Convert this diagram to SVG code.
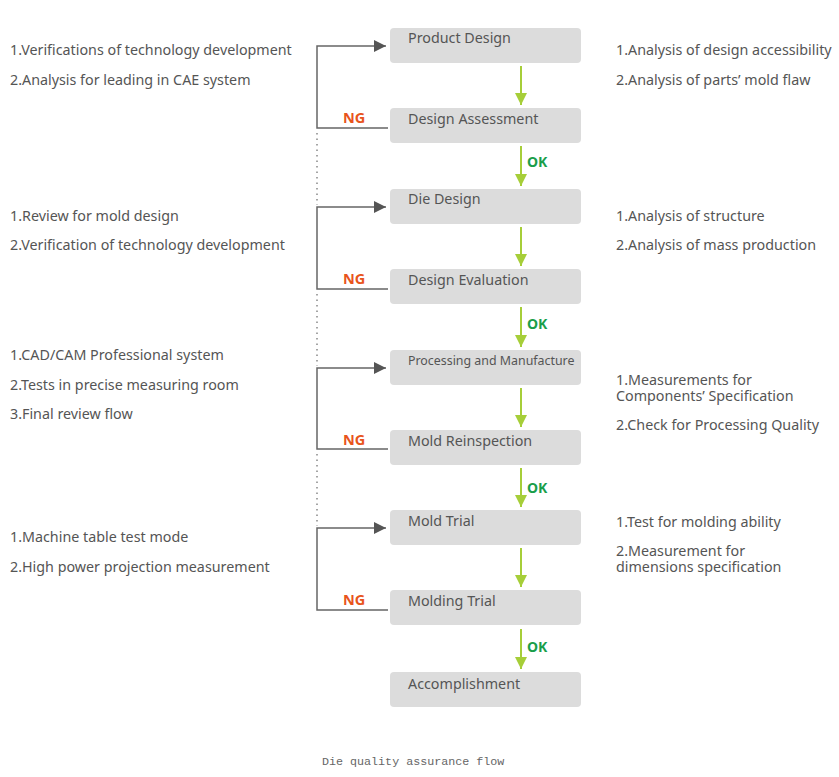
<svg xmlns="http://www.w3.org/2000/svg" width="839" height="777" viewBox="0 0 839 777">
<defs>
<style>
.box{fill:#dcdcdc}
.bt{font-family:"Noto Sans","Open Sans",sans-serif;font-size:14.3px;fill:#555}
.t{font-family:"Noto Sans","Open Sans",sans-serif;font-size:14.3px;fill:#555}
.ok{font-family:"Noto Sans","Open Sans",sans-serif;font-size:14px;font-weight:bold;fill:#1a9e4a}
.ng{font-family:"Noto Sans","Open Sans",sans-serif;font-size:14.5px;font-weight:bold;fill:#e8541c}
.g{stroke:#a6ce39;stroke-width:2;fill:none}
.f{stroke:#666;stroke-width:1.5;fill:none}
.d{stroke:#888;stroke-width:1.5;fill:none;stroke-dasharray:1.5 4}
</style>
<marker id="ga" viewBox="0 0 10 10" refX="10" refY="5" markerWidth="6" markerHeight="6" markerUnits="strokeWidth" orient="auto"><path d="M0,0 L10,5 L0,10 z" fill="#a6ce39"/></marker>
<marker id="fa" viewBox="0 0 10 10" refX="10" refY="5" markerWidth="8" markerHeight="8" markerUnits="strokeWidth" orient="auto"><path d="M0,0 L10,5 L0,10 z" fill="#555"/></marker>
</defs>
<rect width="839" height="777" fill="#fff"/>
<g id="connectors">
<line class="g" x1="521" y1="66" x2="521" y2="105" marker-end="url(#ga)"/>
<line class="g" x1="521" y1="146" x2="521" y2="186" marker-end="url(#ga)"/>
<line class="g" x1="521" y1="227" x2="521" y2="266" marker-end="url(#ga)"/>
<line class="g" x1="521" y1="307" x2="521" y2="347" marker-end="url(#ga)"/>
<line class="g" x1="521" y1="388" x2="521" y2="427" marker-end="url(#ga)"/>
<line class="g" x1="521" y1="468" x2="521" y2="507" marker-end="url(#ga)"/>
<line class="g" x1="521" y1="548" x2="521" y2="587" marker-end="url(#ga)"/>
<line class="g" x1="521" y1="629" x2="521" y2="669" marker-end="url(#ga)"/>
<path class="f" d="M388,128 H317 V46 H386" marker-end="url(#fa)"/>
<path class="f" d="M388,289 H317 V207 H386" marker-end="url(#fa)"/>
<path class="f" d="M388,449 H317 V368 H386" marker-end="url(#fa)"/>
<path class="f" d="M388,610 H317 V528 H386" marker-end="url(#fa)"/>
<line class="d" x1="317" y1="133" x2="317" y2="205"/>
<line class="d" x1="317" y1="294" x2="317" y2="366"/>
<line class="d" x1="317" y1="454" x2="317" y2="526"/>
<text class="ok" x="527" y="167">OK</text>
<text class="ok" x="527" y="329">OK</text>
<text class="ok" x="527" y="493">OK</text>
<text class="ok" x="527" y="652">OK</text>
<text class="ng" x="343" y="123">NG</text>
<text class="ng" x="343" y="284">NG</text>
<text class="ng" x="343" y="445">NG</text>
<text class="ng" x="343" y="605">NG</text>
</g>
<g id="n1"><rect class="box" x="390" y="28" width="191" height="35" rx="4"/><text class="bt" x="408" y="43">Product Design</text></g>
<g id="n2"><rect class="box" x="390" y="108" width="191" height="35" rx="4"/><text class="bt" x="408" y="124">Design Assessment</text></g>
<g id="n3"><rect class="box" x="390" y="189" width="191" height="35" rx="4"/><text class="bt" x="408" y="204">Die Design</text></g>
<g id="n4"><rect class="box" x="390" y="269" width="191" height="35" rx="4"/><text class="bt" x="408" y="285">Design Evaluation</text></g>
<g id="n5"><rect class="box" x="390" y="350" width="191" height="35" rx="4"/><text class="bt" x="408" y="365" style="font-size:12.4px">Processing and Manufacture</text></g>
<g id="n6"><rect class="box" x="390" y="430" width="191" height="35" rx="4"/><text class="bt" x="408" y="446">Mold Reinspection</text></g>
<g id="n7"><rect class="box" x="390" y="510" width="191" height="35" rx="4"/><text class="bt" x="408" y="526">Mold Trial</text></g>
<g id="n8"><rect class="box" x="390" y="590" width="191" height="35" rx="4"/><text class="bt" x="408" y="606">Molding Trial</text></g>
<g id="n9"><rect class="box" x="390" y="672" width="191" height="35" rx="4"/><text class="bt" x="408" y="689">Accomplishment</text></g>
<g id="notes">
<text class="t" x="10" y="55">1.Verifications of technology development</text>
<text class="t" x="10" y="85">2.Analysis for leading in CAE system</text>
<text class="t" x="616" y="55">1.Analysis of design accessibility</text>
<text class="t" x="616" y="85">2.Analysis of parts’ mold flaw</text>
<text class="t" x="10" y="221">1.Review for mold design</text>
<text class="t" x="10" y="250">2.Verification of technology development</text>
<text class="t" x="616" y="221">1.Analysis of structure</text>
<text class="t" x="616" y="250">2.Analysis of mass production</text>
<text class="t" x="10" y="360">1.CAD/CAM Professional system</text>
<text class="t" x="10" y="390">2.Tests in precise measuring room</text>
<text class="t" x="10" y="419">3.Final review flow</text>
<text class="t" x="616" y="385">1.Measurements for</text>
<text class="t" x="616" y="401">Components’ Specification</text>
<text class="t" x="616" y="430">2.Check for Processing Quality</text>
<text class="t" x="10" y="542">1.Machine table test mode</text>
<text class="t" x="10" y="572">2.High power projection measurement</text>
<text class="t" x="616" y="527">1.Test for molding ability</text>
<text class="t" x="616" y="556">2.Measurement for</text>
<text class="t" x="616" y="572">dimensions specification</text>
</g>
<text x="322" y="765" style="font-family:'Liberation Mono',monospace;font-size:11.7px;fill:#666">Die quality assurance flow</text>
</svg>
